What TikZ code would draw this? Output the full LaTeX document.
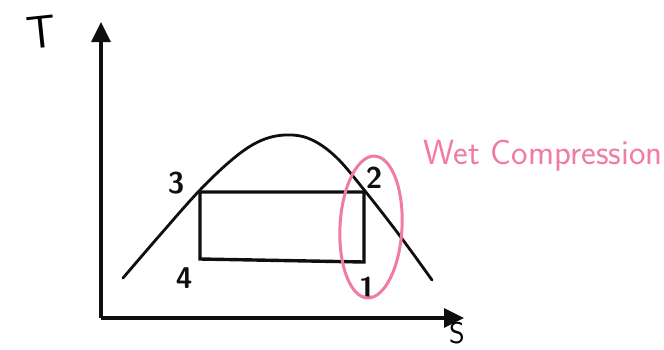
\documentclass[tikz,border=0pt]{standalone}
\usepackage{tikz}
\usetikzlibrary{arrows.meta,positioning,calc}
\usepackage{xcolor}
\definecolor{wetpink}{RGB}{242,122,166}
\definecolor{inkblack}{RGB}{15,15,15}

\begin{document}
\begin{tikzpicture}[
    x=1pt, y=-1pt,
    axis/.style={line width=3.2pt, color=inkblack, -{Triangle[length=20pt,width=19pt]}},
    curve/.style={line width=2.8pt, color=inkblack, line join=round, line cap=round},
    cycleline/.style={line width=3.4pt, color=inkblack},
    statelabel/.style={font=\sffamily\bfseries\fontsize{30}{30}\selectfont, color=inkblack},
    highlight/.style={line width=3pt, color=wetpink}
]
\useasboundingbox (0,0) rectangle (664,349);

% Axes
\coordinate (origin) at (101,318);
\coordinate (ytip) at (101,22);
\coordinate (xtip) at (464,318);
\draw[axis] (origin) -- (ytip);
\draw[axis] (origin) -- (xtip);
\node[font=\sffamily\fontsize{46}{46}\selectfont, rotate=6] (tlabel) at (42,32) {T};
\node[font=\sffamily\fontsize{30}{30}\selectfont] (slabel) at (457,333) {S};

% Saturation dome
\draw[curve] plot[smooth, tension=0.6] coordinates {
    (123,278) (160,235) (200,190) (234,158) (260,141) (285,135)
    (310,139) (336,157) (365,191) (400,236) (432,280)};

% Cycle states
\coordinate (p3) at (200,192);
\coordinate (p2) at (364,192);
\coordinate (p1) at (364,262);
\coordinate (p4) at (200,259);
\draw[cycleline] (p3) -- (p2) -- (p1) -- (p4) -- cycle;

\node[statelabel] (n3) at (176,183) {3};
\node[statelabel] (n2) at (374,178) {2};
\node[statelabel] (n4) at (184,278) {4};
\node[statelabel] (n1) at (367,288) {1};

% Wet compression highlight
\coordinate (ellc) at (371,227);
\draw[highlight, rotate around={-3:(ellc)}] (ellc) ellipse [x radius=31pt, y radius=71pt];
\node[font=\sffamily\fontsize{35}{35}\selectfont, color=wetpink] (wetlabel) at (543,156) {Wet Compression};

\end{tikzpicture}
\end{document}
